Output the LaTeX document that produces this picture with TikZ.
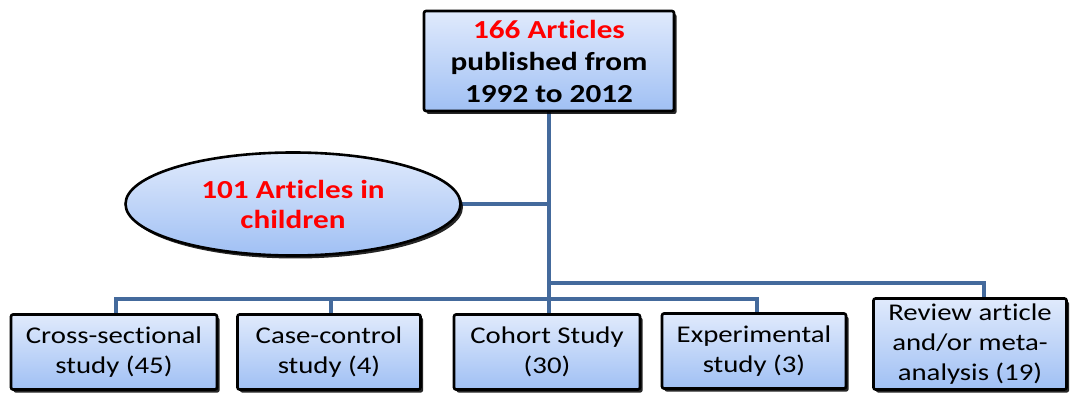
\documentclass[tikz,border=0pt]{standalone}
\usepackage{fontspec}
\setmainfont{Carlito}[FakeStretch=1.2, Ligatures=NoCommon]
\usetikzlibrary{shapes.geometric,shadows,calc,backgrounds}
\definecolor{linkblue}{RGB}{68,106,156}
\definecolor{fillTop}{RGB}{224,234,252}
\definecolor{fillBot}{RGB}{160,192,244}
\definecolor{txtred}{RGB}{255,0,0}
\tikzset{
  boxbase/.style={draw=black, line width=2.6pt, top color=fillTop, bottom color=fillBot,
    drop shadow={shadow xshift=2.5pt, shadow yshift=-3pt, fill=black, opacity=0.85},
    align=center, inner sep=0pt},
  topbox/.style={boxbase, rounded corners=2pt, minimum width=250pt, minimum height=100pt,
    font=\fontsize{26}{32}\selectfont\bfseries},
  ellbox/.style={boxbase, ellipse, minimum width=335pt, minimum height=103pt,
    font=\fontsize{26}{30}\selectfont\bfseries, text=txtred},
  studybox/.style={boxbase, rounded corners=2pt, minimum height=75pt,
    font=\fontsize{24}{30}\selectfont},
  link/.style={draw=linkblue, line width=4pt},
}
\begin{document}
\begin{tikzpicture}[x=1pt,y=1pt]
\useasboundingbox (0,0) rectangle (1077,394);
% nodes
\node[topbox] (top) at (549,333) {{\color{txtred}166 Articles}\\published from\\1992 to 2012};
\node[ellbox] (ell) at (293,190) {101 Articles in\\children};
\node[studybox, minimum width=206pt] (cross) at (114,42) {Cross-sectional\\study (45)};
\node[studybox, minimum width=183pt] (case) at (329,42) {Case-control\\study (4)};
\node[studybox, minimum width=186pt] (cohort) at (547,42) {Cohort Study\\(30)};
\node[studybox, minimum width=184pt] (exp) at (754,43) {Experimental\\study (3)};
\node[studybox, minimum width=193pt, minimum height=91pt] (rev) at (970,50) {Review article\\and/or meta-\\analysis (19)};
% hubs
\coordinate (hubA) at (549,111);
\coordinate (hubB) at (549,95);
% connectors
\begin{scope}[on background layer]
\draw[link] (top.south) -- (top.south |- cohort.north);
\draw[link] (ell.east) -- (ell.east -| top.south);
\draw[link] (hubA) -| ([xshift=14pt]rev.north);
\draw[link] ([xshift=2pt]cross.north) |- ([xshift=3pt]exp.north |- hubB) -- ([xshift=3pt]exp.north);
\draw[link] ([xshift=2pt]case.north) -- ([xshift=2pt]case.north |- hubB);
\end{scope}
\end{tikzpicture}
\end{document}
